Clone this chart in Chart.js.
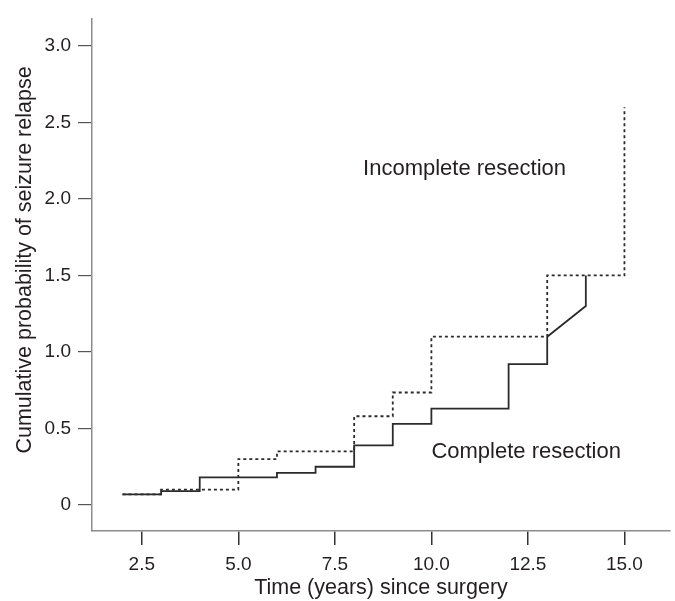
<!DOCTYPE html>
<html><head><meta charset="utf-8">
<script src="https://cdn.jsdelivr.net/npm/chart.js@4.4.1/dist/chart.umd.min.js"></script>
<style>html,body{margin:0;padding:0;background:#fff}canvas{display:block}</style>
</head><body>
<canvas id="c" width="675" height="601"></canvas>
<script>
// ---- data ----
const completeTimes = [2, 3, 4, 6, 7, 8, 9, 10, 12, 13];
const completeValues = [0.07, 0.09, 0.18, 0.21, 0.25, 0.39, 0.53, 0.63, 0.92, 1.10];
const completeTailTimes = [13, 14, 14];
const completeTailValues = [1.10, 1.30, 1.50];
const incompleteTimes = [2, 3, 5, 6, 8, 9, 10, 13, 15];
const incompleteValues = [0.07, 0.10, 0.30, 0.35, 0.58, 0.735, 1.10, 1.50, 2.60];
const xTickValues = [2.5, 5, 7.5, 10, 12.5, 15];
const yTickValues = [0, 0.5, 1, 1.5, 2, 2.5, 3];
const seriesNames = ['Complete resection', 'Incomplete resection'];
const xTitle = 'Time (years) since surgery';
const yTitle = 'Cumulative probability of seizure relapse';

const FONT = '"Liberation Sans", Arial, Helvetica, sans-serif';
const INK = '#231f20';
const LINE = '#2b2b2b';

const toPts = (xs, ys) => xs.map((x, i) => ({x, y: ys[i]}));

const labelPlugin = {
  id: 'labels',
  afterDraw(chart) {
    const {ctx, scales} = chart;
    ctx.save();
    ctx.fillStyle = INK;
    ctx.font = '22px ' + FONT;
    ctx.textBaseline = 'middle';
    ctx.textAlign = 'left';
    const notes = [
      {text: seriesNames[1], x: 8.23, y: 2.195},
      {text: seriesNames[0], x: 10.0, y: 0.344}
    ];
    notes.forEach(n => ctx.fillText(n.text, scales.x.getPixelForValue(n.x), scales.y.getPixelForValue(n.y)));
    // y axis title
    ctx.font = '21.5px ' + FONT;
    ctx.translate(25, 260);
    ctx.rotate(-Math.PI / 2);
    ctx.textAlign = 'center';
    ctx.fillText(yTitle, 0, 0);
    ctx.restore();
  }
};

new Chart(document.getElementById('c'), {
  type: 'line',
  data: {
    datasets: [
      {label: seriesNames[0], data: toPts(completeTimes, completeValues), stepped: 'before',
       borderColor: LINE, borderWidth: 1.8, pointRadius: 0, fill: false, order: 2},
      {label: seriesNames[0] + ' (tail)', data: toPts(completeTailTimes, completeTailValues),
       borderColor: LINE, borderWidth: 1.8, pointRadius: 0, fill: false, tension: 0, order: 2},
      {label: seriesNames[1], data: toPts(incompleteTimes, incompleteValues), stepped: 'before',
       borderColor: LINE, borderWidth: 1.8, borderDash: [3, 3], pointRadius: 0, fill: false, order: 1}
    ]
  },
  options: {
    responsive: false,
    animation: false,
    events: [],
    layout: {padding: {left: 0, top: 15, right: 5, bottom: 0}},
    plugins: {legend: {display: false}, tooltip: {enabled: false}},
    scales: {
      x: {
        type: 'linear', min: 1.21, max: 16.18,
        afterFit: s => { s.height = 70; },
        afterBuildTicks: s => { s.ticks = xTickValues.map(v => ({value: v})); },
        ticks: {color: INK, font: {family: FONT, size: 19}, padding: 8, maxRotation: 0,
                callback: v => v.toFixed(1)},
        grid: {drawOnChartArea: false, drawTicks: true, tickLength: 14, color: '#333', lineWidth: 1.5},
        border: {display: true, color: '#8c8c8c', width: 1.5},
        title: {display: true, text: xTitle, color: INK, font: {family: FONT, size: 21.5, lineHeight: 1.2},
                padding: {top: 0, bottom: 0}}
      },
      y: {
        type: 'linear', min: -0.17, max: 3.18,
        afterFit: s => { s.width = 92; },
        afterBuildTicks: s => { s.ticks = yTickValues.map(v => ({value: v})); },
        ticks: {color: INK, font: {family: FONT, size: 19}, padding: 7,
                callback: v => v === 0 ? '0' : v.toFixed(1)},
        grid: {drawOnChartArea: false, drawTicks: true, tickLength: 14, color: '#555', lineWidth: 1.2},
        border: {display: true, color: '#8c8c8c', width: 1.5}
      }
    }
  },
  plugins: [labelPlugin]
});
</script>
</body></html>
